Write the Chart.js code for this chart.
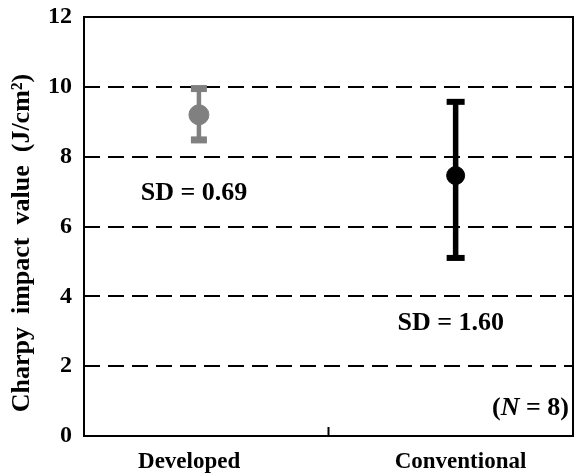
<!DOCTYPE html>
<html>
<head>
<meta charset="utf-8">
<script src="https://cdn.jsdelivr.net/npm/chart.js@4"></script>
<style>
    html, body { margin: 0; padding: 0; background: #fff; }
    #wrap { width: 575px; height: 476px; }
</style>
</head>
<body>
<div id="wrap"><canvas id="charpyChart" width="575" height="476"></canvas></div>
<script>
const categories = ['Developed', 'Conventional'];
const categoryX = [0.47, 1.52];
const labelX = [0.43, 1.54];
const meanValues = [9.2, 7.46];
const upperValues = [9.95, 9.57];
const lowerValues = [8.48, 5.1];
const sdLabels = ['SD = 0.69', 'SD = 1.60'];
const sdLabelPos = [[0.45, 6.96], [1.5, 3.24]];
const pointColors = ['#808080', '#000000'];
const yTicks = [0, 2, 4, 6, 8, 10, 12];
const yTitle = 'Charpy  impact  value  (J/cm²)';

const serif = '"Liberation Serif", "Times New Roman", serif';

const errorBarPlugin = {
    id: 'errorBars',
    beforeDatasetsDraw(chart) {
        const { ctx, scales: { x, y } } = chart;
        ctx.save();
        categoryX.forEach((cx, i) => {
            const px = x.getPixelForValue(cx);
            const top = y.getPixelForValue(upperValues[i]);
            const bottom = y.getPixelForValue(lowerValues[i]);
            const capW = i === 0 ? 16 : 18;
            const capH = i === 0 ? 7 : 6;
            ctx.strokeStyle = pointColors[i];
            ctx.fillStyle = pointColors[i];
            ctx.lineWidth = i === 0 ? 4.5 : 5.5;
            ctx.beginPath();
            ctx.moveTo(px, top);
            ctx.lineTo(px, bottom);
            ctx.stroke();
            ctx.fillRect(px - capW / 2, top - capH / 2, capW, capH);
            ctx.fillRect(px - capW / 2, bottom - capH / 2, capW, capH);
        });
        ctx.restore();
    },
    afterDatasetsDraw(chart) {
        const { ctx, chartArea, scales: { x, y } } = chart;
        ctx.save();
        // box border
        ctx.strokeStyle = '#000';
        ctx.lineWidth = 2;
        ctx.strokeRect(chartArea.left, chartArea.top, chartArea.right - chartArea.left, chartArea.bottom - chartArea.top);
        // middle tick, pointing inward
        const mx = x.getPixelForValue(1);
        ctx.beginPath();
        ctx.moveTo(mx, chartArea.bottom);
        ctx.lineTo(mx, chartArea.bottom - 9);
        ctx.stroke();
        // SD annotations
        ctx.fillStyle = '#000';
        ctx.font = 'bold 26px ' + serif;
        ctx.textAlign = 'center';
        ctx.textBaseline = 'middle';
        sdLabels.forEach((t, i) => {
            ctx.fillText(t, x.getPixelForValue(sdLabelPos[i][0]), y.getPixelForValue(sdLabelPos[i][1]));
        });
        // (N = 8)
        ctx.textAlign = 'right';
        const nx = chartArea.right - 4;
        const ny = y.getPixelForValue(0.8);
        const tail = ' = 8)';
        ctx.font = 'bold 26px ' + serif;
        const tailW = ctx.measureText(tail).width;
        ctx.fillText(tail, nx, ny);
        ctx.font = 'italic bold 26px ' + serif;
        const nW = ctx.measureText('N').width;
        ctx.fillText('N', nx - tailW, ny);
        ctx.font = 'bold 26px ' + serif;
        ctx.fillText('(', nx - tailW - nW, ny);
        // y axis title
        ctx.translate(22, 243);
        ctx.rotate(-Math.PI / 2);
        ctx.textAlign = 'center';
        ctx.font = 'bold 26px ' + serif;
        ctx.fillText(yTitle, 0, 0);
        ctx.restore();
    },
};

new Chart(document.getElementById('charpyChart'), {
    type: 'scatter',
    data: {
        datasets: categories.map((name, i) => ({
            label: name,
            data: [{ x: categoryX[i], y: meanValues[i] }],
            backgroundColor: pointColors[i],
            borderColor: pointColors[i],
            pointRadius: i === 0 ? 10 : 9,
        })),
    },
    options: {
        responsive: false,
        animation: false,
        layout: { autoPadding: false, padding: { top: 17, right: 2, left: 0, bottom: 0 } },
        plugins: {
            legend: { display: false },
            tooltip: { enabled: false },
        },
        scales: {
            x: {
                type: 'linear',
                min: 0,
                max: 2,
                grid: { display: false, drawTicks: false },
                border: { display: false },
                afterBuildTicks: (axis) => {
                    axis.ticks = labelX.map((v) => ({ value: v }));
                },
                afterFit: (axis) => {
                    axis.height = 40;
                    axis.paddingLeft = 0;
                    axis.paddingRight = 0;
                },
                ticks: {
                    autoSkip: false,
                    maxRotation: 0,
                    padding: 12,
                    color: '#000',
                    font: { family: serif, size: 23, weight: 'bold' },
                    callback: (value) => categories[labelX.indexOf(value)] || '',
                },
            },
            y: {
                min: 0,
                max: 12,
                afterBuildTicks: (axis) => {
                    axis.ticks = yTicks.map((v) => ({ value: v }));
                },
                afterFit: (axis) => {
                    axis.width = 84;
                    axis.paddingTop = 0;
                    axis.paddingBottom = 0;
                },
                border: { display: false, dash: [16, 8] },
                grid: {
                    drawTicks: false,
                    color: (c) => (c.tick.value === 0 || c.tick.value === 12 ? 'rgba(0,0,0,0)' : '#000'),
                    lineWidth: 2,
                },
                ticks: {
                    padding: 12,
                    color: '#000',
                    font: { family: serif, size: 24, weight: 'bold' },
                },
            },
        },
    },
    plugins: [errorBarPlugin],
});
</script>
</body>
</html>
